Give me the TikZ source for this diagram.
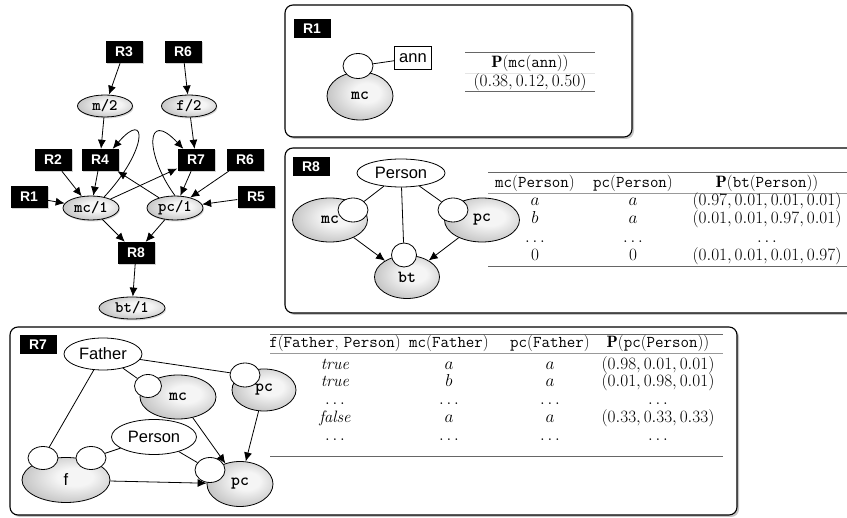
\documentclass[tikz,border=0pt]{standalone}
\usepackage{fontspec}
\usetikzlibrary{arrows.meta,shapes.geometric,shadows}
\newfontfamily\hel{Liberation Sans}
\colorlet{predin}{black!4}
\colorlet{predout}{black!40}
\pgfdeclareradialshading{predshade}{\pgfpoint{6bp}{4bp}}{color(0bp)=(predin); color(10bp)=(predin); color(46bp)=(predout); color(70bp)=(predout)}
\tikzset{
  rboxbase/.style={fill=black, text=white, font=\hel\bfseries\fontsize{14}{14}\selectfont, inner sep=0pt},
  rbox/.style={rboxbase, minimum width=37pt, minimum height=22pt, drop shadow={shadow xshift=1.5pt, shadow yshift=-1.5pt, opacity=0.35}},
  plab/.style={rboxbase, minimum width=37pt, minimum height=19pt},
  pred/.style={ellipse, draw, line width=0.8pt, shading=predshade, inner sep=0pt, font=\ttfamily\bfseries\fontsize{17}{17}\selectfont},
  predl/.style={pred, font=\ttfamily\bfseries\fontsize{16}{16}\selectfont, drop shadow={shadow xshift=1pt, shadow yshift=-1.5pt, opacity=0.3}},
  port/.style={ellipse, draw, line width=0.8pt, fill=white, inner sep=0pt},
  lvar/.style={ellipse, draw, line width=0.8pt, fill=white, inner sep=0pt, font=\hel\fontsize{16.5}{16.5}\selectfont},
  arr/.style={line width=0.8pt, -{Latex[length=9pt,width=8pt]}},
  link/.style={line width=0.8pt},
  panel/.style={draw, line width=1.1pt, rounded corners=8pt, fill=white, drop shadow={shadow xshift=2pt, shadow yshift=-2pt, opacity=0.45}},
  rule/.style={draw=black!60, line width=1pt},
  midrule/.style={draw=black!40, line width=0.7pt},
  faintrule/.style={draw=black!10, line width=0.6pt},
  cell/.style={font=\fontsize{16.5}{16.5}\selectfont, inner sep=0pt, anchor=base}
}
\begin{document}
\begin{tikzpicture}[x=1pt,y=-1pt]
\useasboundingbox (0,0) rectangle (847,518);
\fill[white] (0,0) rectangle (847,518);

% ---------- panels ----------
\draw[panel] (285,5) rectangle (632,137);
\draw[panel] (285,148) rectangle (880,313);
\draw[panel] (10,327) rectangle (737,515);

% ---------- left dependency graph ----------
\node[rbox] (R3) at (124,52) {R3};
\node[rbox] (R6a) at (183,52) {R6};
\node[predl, minimum width=55pt, minimum height=22pt] (m2) at (105,106) {m/2};
\node[predl, minimum width=55pt, minimum height=22pt] (f2) at (189,106) {f/2};
\node[rbox] (R2) at (53,160) {R2};
\node[rbox] (R4) at (100,160) {R4};
\node[rbox] (R7) at (196,160) {R7};
\node[rbox] (R6b) at (245,160) {R6};
\node[rbox] (R1) at (29,197) {R1};
\node[rbox] (R5) at (256,197) {R5};
\node[predl, minimum width=56pt, minimum height=24pt] (mc1) at (91,208) {mc/1};
\node[predl, minimum width=56pt, minimum height=24pt] (pc1) at (175,208) {pc/1};
\node[rbox] (R8) at (136,253) {R8};
\node[predl, minimum width=66pt, minimum height=22pt] (bt1) at (132,308) {bt/1};

\draw[arr] (R3) -- (m2);
\draw[arr] (R6a) -- (f2);
\draw[arr] (m2) -- (R4);
\draw[arr] (f2) -- (R7);
\draw[arr] (R2) -- (mc1);
\draw[arr] (R4) -- (mc1);
\draw[arr] (R1) -- (mc1);
\draw[arr] (mc1.40) .. controls (148,150) and (148,108) .. ([xshift=-6pt]R4.north east);
\draw[arr] (mc1) -- (R7);
\draw[arr] (pc1) -- (R4);
\draw[arr] (pc1.north) .. controls (145,155) and (145,108) .. ([xshift=6pt]R7.north west);
\draw[arr] (R7) -- (pc1);
\draw[arr] (R6b) -- (pc1);
\draw[arr] (R5) -- (pc1);
\draw[arr] (mc1) -- (R8);
\draw[arr] (pc1) -- (R8);
\draw[arr] (R8) -- (bt1);

% ---------- panel R1 ----------
\node[plab] (L1) at (312,29) {R1};
\node[pred, minimum width=66pt, minimum height=48pt] (mcA) at (360,96) {mc};
\node[port, minimum width=30pt, minimum height=25pt] (mcAp) at (358,66) {};
\node[draw, line width=0.8pt, fill=white, minimum width=37pt, minimum height=23pt, inner sep=0pt, font=\hel\fontsize{16.5}{16.5}\selectfont] (ann) at (413,58) {ann};
\draw[link] (mcAp) -- (ann);
\draw[rule] (465,53) -- (595,53);
\draw[faintrule] (465,73) -- (595,73);
\draw[rule] (465,92) -- (595,92);
\node[cell] (t1h) at (530,68) {$\mathbf{P}$(\texttt{mc}(\texttt{ann}))};
\node[cell] (t1r) at (530,87) {$(0.38, 0.12, 0.50)$};

% ---------- panel R8 ----------
\node[plab] (L8) at (311,167) {R8};
\node[lvar, minimum width=88pt, minimum height=28pt] (P8) at (401,173) {Person};
\node[pred, minimum width=75pt, minimum height=44pt] (mc8) at (330,220) {mc};
\node[port, minimum width=30pt, minimum height=24pt] (mc8p) at (353,210) {};
\node[pred, minimum width=75pt, minimum height=44pt] (pc8) at (482,220) {pc};
\node[port, minimum width=30pt, minimum height=24pt] (pc8p) at (453,210) {};
\node[pred, minimum width=65pt, minimum height=43pt] (bt8) at (407,277) {bt};
\node[port, minimum width=25pt, minimum height=24pt] (bt8p) at (404,255) {};
\draw[link] (P8) -- (mc8p);
\draw[link] (P8) -- (pc8p);
\draw[link] (P8) -- (bt8p);
\draw[arr] (mc8) -- (bt8);
\draw[arr] (pc8) -- (bt8);

\draw[rule] (488,173) -- (847,173);
\draw[midrule] (488,193) -- (847,193);
\draw[rule] (488,267) -- (847,267);
\node[cell] (h81) at (535,188) {\texttt{mc}(\texttt{Person})};
\node[cell] (h82) at (633,188) {\texttt{pc}(\texttt{Person})};
\node[cell] (h83) at (767,188) {$\mathbf{P}$(\texttt{bt}(\texttt{Person}))};
\node[cell] (a81) at (535,206) {$a$};
\node[cell] (a82) at (633,206) {$a$};
\node[cell] (a83) at (767,206) {$(0.97, 0.01, 0.01, 0.01)$};
\node[cell] (b81) at (535,224) {$b$};
\node[cell] (b82) at (633,224) {$a$};
\node[cell] (b83) at (767,224) {$(0.01, 0.01, 0.97, 0.01)$};
\node[cell] (c81) at (535,243) {$\ldots$};
\node[cell] (c82) at (633,243) {$\ldots$};
\node[cell] (c83) at (767,243) {$\ldots$};
\node[cell] (d81) at (535,261) {$0$};
\node[cell] (d82) at (633,261) {$0$};
\node[cell] (d83) at (767,261) {$(0.01, 0.01, 0.01, 0.97)$};

% ---------- panel R7 ----------
\node[plab] (L7) at (38,345) {R7};
\node[lvar, minimum width=78pt, minimum height=32pt] (Fa) at (103,354) {Father};
\node[pred, minimum width=76pt, minimum height=44pt] (mc7) at (178,397) {mc};
\node[port, minimum width=27pt, minimum height=23pt] (mc7p) at (148,386) {};
\node[pred, minimum width=64pt, minimum height=42pt] (pcF) at (264,390) {pc};
\node[port, minimum width=30pt, minimum height=24pt] (pcFp) at (245,375) {};
\node[lvar, minimum width=85pt, minimum height=35pt] (Pe7) at (154,437) {Person};
\node[pred, font=\hel\fontsize{16.5}{16.5}\selectfont, minimum width=88pt, minimum height=45pt] (f7) at (66,480) {f};
\node[port, minimum width=30pt, minimum height=23pt] (f7a) at (43,458) {};
\node[port, minimum width=30pt, minimum height=23pt] (f7b) at (91,458) {};
\node[pred, minimum width=66pt, minimum height=45pt] (pc7) at (240,484) {pc};
\node[port, minimum width=30pt, minimum height=25pt] (pc7p) at (210,470) {};
\draw[link] (Fa) -- (f7a);
\draw[link] (Fa) -- (mc7p);
\draw[link] (Fa) -- (pcFp);
\draw[link] (Pe7) -- (f7b);
\draw[link] (Pe7) -- (pc7p);
\draw[arr] (mc7) -- (pc7);
\draw[arr] (pcF) -- (pc7);
\draw[arr] (f7) -- (pc7);

\draw[rule] (270,335) -- (723,335);
\draw[midrule] (270,353) -- (723,353);
\draw[rule] (270,457) -- (723,457);
\node[cell] (h71) at (335,348) {\texttt{f}(\texttt{Father}, \texttt{Person})};
\node[cell] (h72) at (449,348) {\texttt{mc}(\texttt{Father})};
\node[cell] (h73) at (550,348) {\texttt{pc}(\texttt{Father})};
\node[cell] (h74) at (658,348) {$\mathbf{P}$(\texttt{pc}(\texttt{Person}))};
\node[cell] (a71) at (335,370) {\textit{true}};
\node[cell] (a72) at (449,370) {$a$};
\node[cell] (a73) at (550,370) {$a$};
\node[cell] (a74) at (658,370) {$(0.98, 0.01, 0.01)$};
\node[cell] (b71) at (335,387) {\textit{true}};
\node[cell] (b72) at (449,387) {$b$};
\node[cell] (b73) at (550,387) {$a$};
\node[cell] (b74) at (658,387) {$(0.01, 0.98, 0.01)$};
\node[cell] (c71) at (335,405) {$\ldots$};
\node[cell] (c72) at (449,405) {$\ldots$};
\node[cell] (c73) at (550,405) {$\ldots$};
\node[cell] (c74) at (658,405) {$\ldots$};
\node[cell] (d71) at (335,423) {\textit{false}};
\node[cell] (d72) at (449,423) {$a$};
\node[cell] (d73) at (550,423) {$a$};
\node[cell] (d74) at (658,423) {$(0.33, 0.33, 0.33)$};
\node[cell] (e71) at (335,441) {$\ldots$};
\node[cell] (e72) at (449,441) {$\ldots$};
\node[cell] (e73) at (550,441) {$\ldots$};
\node[cell] (e74) at (658,441) {$\ldots$};
\end{tikzpicture}
\end{document}
